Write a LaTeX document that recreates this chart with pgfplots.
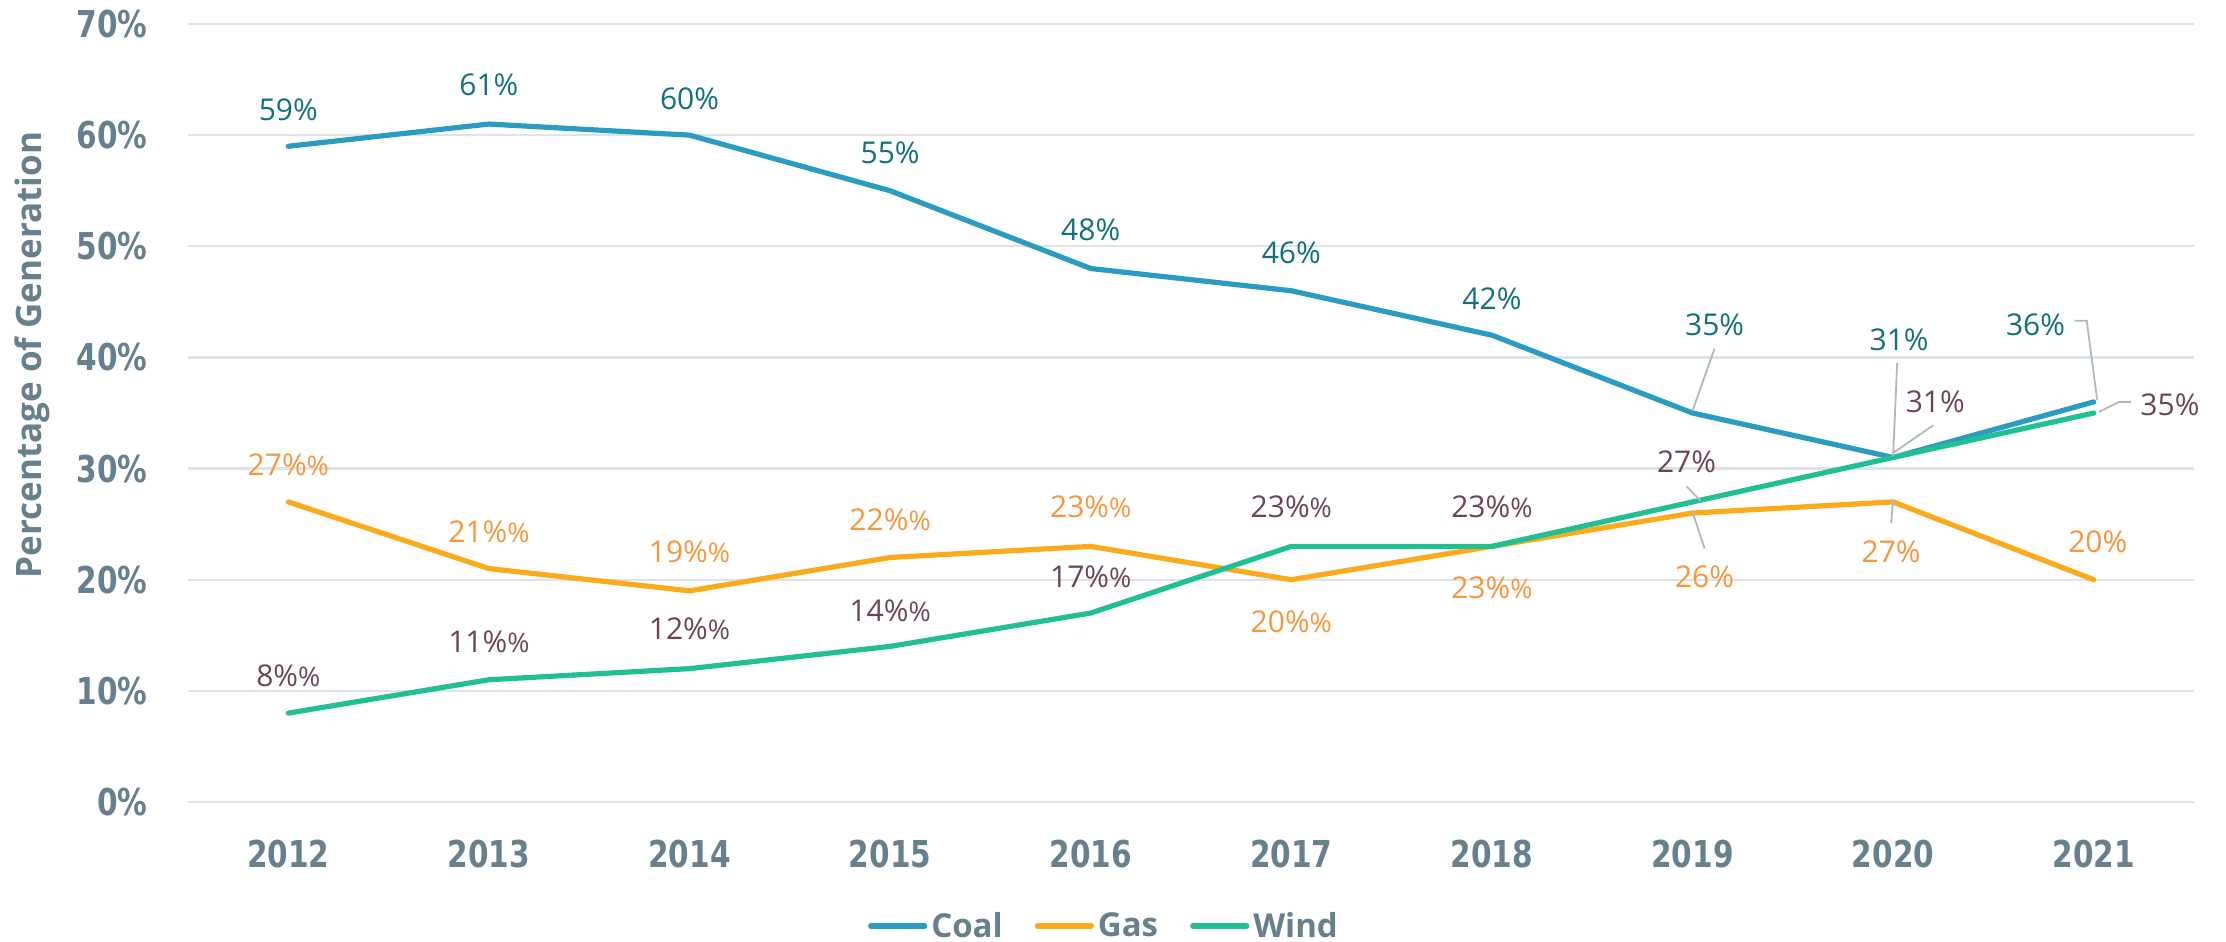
\documentclass[border=0pt]{standalone}
\usepackage{fontspec}
\usepackage{pgfplots}
\pgfplotsset{compat=1.18}
\setmainfont{Open Sans}
\newfontfamily\tickfont[FakeStretch=0.8]{DejaVu Sans}
\definecolor{coalline}{HTML}{2A9BC1}
\definecolor{gasline}{HTML}{FBAA1B}
\definecolor{windline}{HTML}{21C093}
\definecolor{coaltext}{HTML}{12707B}
\definecolor{gastext}{HTML}{F7963C}
\definecolor{windtext}{HTML}{6D4456}
\definecolor{axistext}{HTML}{66808D}
\definecolor{gridc}{HTML}{DDE3E7}
\definecolor{leader}{HTML}{AEBAC0}
\newcommand{\dd}{{\fontsize{13.5bp}{14bp}\selectfont\%}}
\begin{document}
\begin{tikzpicture}
\begin{axis}[
  at={(0,0)}, anchor=south west,
  scale only axis, width=1003bp, height=389bp,
  xmin=-0.5, xmax=9.5, ymin=0, ymax=70,
  axis line style={draw=none},
  major tick length=0pt,
  xtick={0,...,9},
  xticklabels={2012,2013,2014,2015,2016,2017,2018,2019,2020,2021},
  ytick={0,10,...,70},
  yticklabels={0\%,10\%,20\%,30\%,40\%,50\%,60\%,70\%},
  xticklabel style={font=\tickfont\bfseries\fontsize{18.5bp}{20bp}\selectfont, text=axistext, anchor=center, inner sep=0pt, yshift=-26bp},
  yticklabel style={font=\tickfont\bfseries\fontsize{18.5bp}{20bp}\selectfont, text=axistext, anchor=east, inner sep=0pt, xshift=-20bp},
  ymajorgrids, grid style={gridc, line width=1.1bp},
  ylabel={Percentage of Generation},
  every axis y label/.style={at={(axis description cs:-0.0778,0.5746)}, anchor=center, rotate=90, font=\bfseries\fontsize{17.5bp}{19bp}\selectfont, text=axistext},
  clip=false,
  legend columns=3,
  legend style={at={(axis description cs:0.4571,-0.1594)}, anchor=center, draw=none, fill=none,
    font=\bfseries\fontsize{16.5bp}{18bp}\selectfont, text=axistext,
    /tikz/every even column/.append style={column sep=14bp},
    inner sep=0pt},
  legend image code/.code={\draw[#1, line width=2.6bp, line cap=round] (0bp,0bp) -- (27bp,0bp);},
  every axis plot/.append style={line width=2.6bp, line join=round, line cap=round, mark=none},
]
\addplot[coalline] coordinates {(0,59) (1,61) (2,60) (3,55) (4,48) (5,46) (6,42) (7,35) (8,31) (9,36)};
\addlegendentry{Coal}
\addplot[gasline] coordinates {(0,27) (1,21) (2,19) (3,22) (4,23) (5,20) (6,23) (7,26) (8,27) (9,20)};
\addlegendentry{Gas}
\addplot[windline] coordinates {(0,8) (1,11) (2,12) (3,14) (4,17) (5,23) (6,23) (7,27) (8,31) (9,35)};
\addlegendentry{Wind}
% leader lines
\draw[leader, line width=0.9bp] (axis cs:7.11,40.8) -- (axis cs:7,35.2);
\draw[leader, line width=0.9bp] (axis cs:8.02,39.5) -- (axis cs:8.0,31.1);
\draw[leader, line width=0.9bp] (axis cs:8.905,43.3) -- (axis cs:8.965,43.3) -- (axis cs:9.017,36.2);
\draw[leader, line width=0.9bp] (axis cs:6.97,28.4) -- (axis cs:7.04,27.1);
\draw[leader, line width=0.9bp] (axis cs:7.06,22.8) -- (axis cs:7.0,26.1);
\draw[leader, line width=0.9bp] (axis cs:8.20,33.9) -- (axis cs:8.0,31.4);
\draw[leader, line width=0.9bp] (axis cs:7.99,25.1) -- (axis cs:8.0,27.2);
\draw[leader, line width=0.9bp] (axis cs:9.186,36.0) -- (axis cs:9.126,36.0) -- (axis cs:9.026,35.1);
% coal labels
\begin{scope}[every node/.style={font=\fontsize{15bp}{17bp}\selectfont, text=coaltext, inner sep=0pt}]
\node at (axis cs:0,62.3) {59\%};
\node at (axis cs:1,64.5) {61\%};
\node at (axis cs:2,63.3) {60\%};
\node at (axis cs:3,58.4) {55\%};
\node at (axis cs:4,51.5) {48\%};
\node at (axis cs:5,49.4) {46\%};
\node at (axis cs:6,45.3) {42\%};
\node at (axis cs:7.11,42.9) {35\%};
\node at (axis cs:8.03,41.6) {31\%};
\node at (axis cs:8.71,42.9) {36\%};
\end{scope}
\begin{scope}[every node/.style={font=\fontsize{15bp}{17bp}\selectfont, text=gastext, inner sep=0pt}]
\node at (axis cs:0,30.3) {27\%\dd};
\node at (axis cs:1,24.3) {21\%\dd};
\node at (axis cs:2,22.5) {19\%\dd};
\node at (axis cs:3,25.4) {22\%\dd};
\node at (axis cs:4,26.6) {23\%\dd};
\node at (axis cs:5,16.2) {20\%\dd};
\node at (axis cs:6,19.3) {23\%\dd};
\node at (axis cs:7.06,20.3) {26\%};
\node at (axis cs:7.99,22.5) {27\%};
\node at (axis cs:9.02,23.4) {20\%};
\end{scope}
\begin{scope}[every node/.style={font=\fontsize{15bp}{17bp}\selectfont, text=windtext, inner sep=0pt}]
\node at (axis cs:0,11.4) {8\%\dd};
\node at (axis cs:1,14.4) {11\%\dd};
\node at (axis cs:2,15.6) {12\%\dd};
\node at (axis cs:3,17.2) {14\%\dd};
\node at (axis cs:4,20.3) {17\%\dd};
\node at (axis cs:5,26.6) {23\%\dd};
\node at (axis cs:6,26.6) {23\%\dd};
\node at (axis cs:6.97,30.6) {27\%};
\node at (axis cs:8.21,36.0) {31\%};
\node at (axis cs:9.38,35.7) {35\%};
\end{scope}
\end{axis}
\pgfresetboundingbox
\path (-94bp,-70bp) rectangle (1019bp,401bp);
\end{tikzpicture}
\end{document}
